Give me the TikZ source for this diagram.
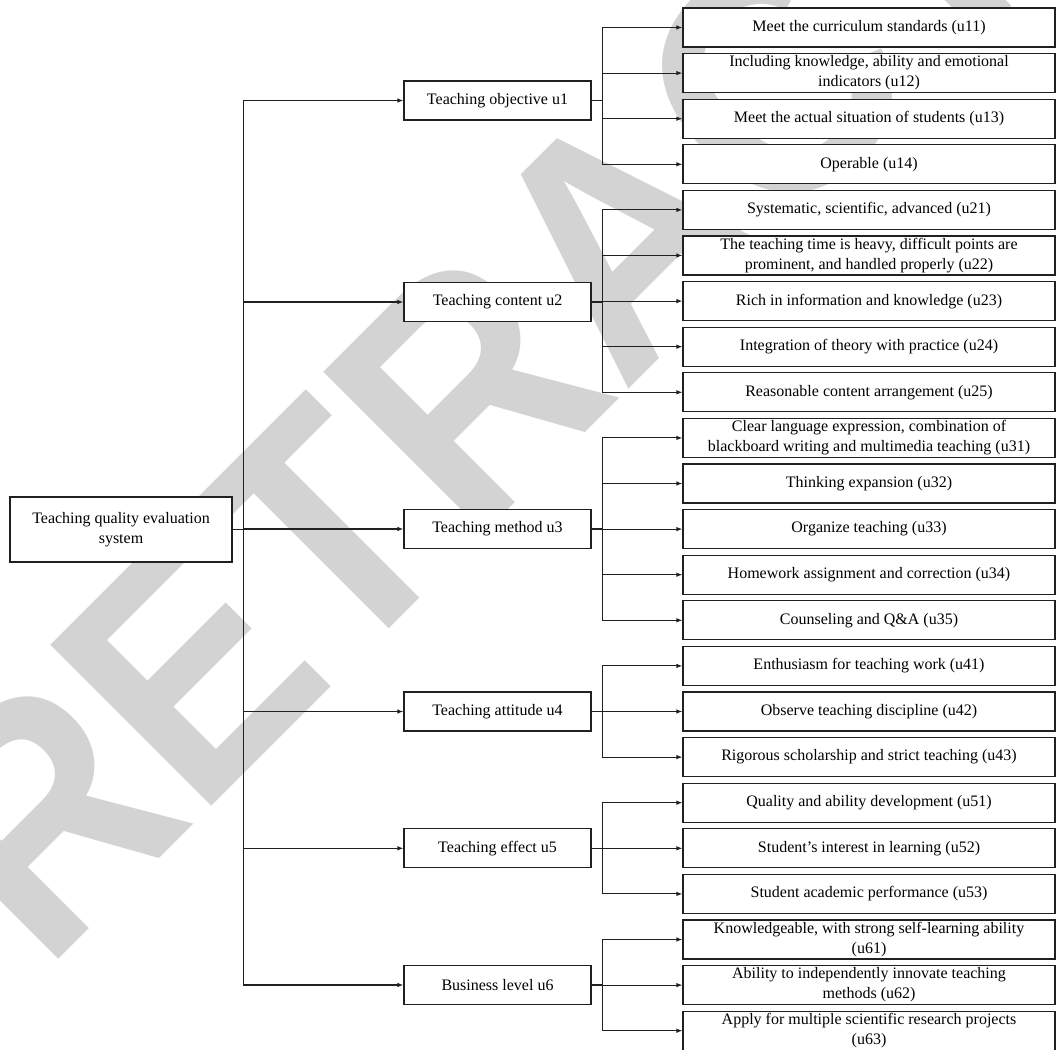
\documentclass[tikz,border=0pt]{standalone}
\usepackage{fontspec}
\setmainfont{Liberation Serif}
\newfontfamily\wmfont{Liberation Sans}
\usetikzlibrary{arrows.meta}
\definecolor{wmgray}{RGB}{211,211,211}
\definecolor{ink}{RGB}{35,31,32}
\tikzset{
  box/.style={draw=ink, line width=1.1pt, fill=white, align=center, inner sep=2pt,
    font=\fontsize{16}{20}\selectfont},
  leaf/.style={box, minimum width=372pt, minimum height=39pt},
  mid/.style={box, minimum width=187pt, minimum height=39pt},
  link/.style={draw=ink, line width=1.1pt, -{Latex[length=6pt,width=4.5pt]}},
}
\begin{document}
\begin{tikzpicture}[x=1pt,y=-1pt]
  \useasboundingbox (0,0) rectangle (1057,1049);

  % watermark
  \node[rotate=45, xscale=0.91, anchor=base west, inner sep=0, text=wmgray,
    font=\wmfont\bfseries\fontsize{331}{331}\selectfont] (wm) at (44,974) {RETRACTED};

  \node[box, minimum width=222pt, minimum height=65pt] (tqe) at (121,529.5) {Teaching quality evaluation\\system};

  \node[mid] (u1) at (497.5,100.5) {Teaching objective u1};
  \node[mid] (u2) at (497.5,302) {Teaching content u2};
  \node[mid] (u3) at (497.5,529) {Teaching method u3};
  \node[mid] (u4) at (497.5,711.5) {Teaching attitude u4};
  \node[mid] (u5) at (497.5,848.3) {Teaching effect u5};
  \node[mid] (u6) at (497.5,985) {Business level u6};

  \foreach \k/\nm/\txt in {
      0/u11/{Meet the curriculum standards (u11)},
      1/u12/{Including knowledge, ability and emotional\\indicators (u12)},
      2/u13/{Meet the actual situation of students (u13)},
      3/u14/{Operable (u14)},
      4/u21/{Systematic, scientific, advanced (u21)},
      5/u22/{The teaching time is heavy, difficult points are\\prominent, and handled properly (u22)},
      6/u23/{Rich in information and knowledge (u23)},
      7/u24/{Integration of theory with practice (u24)},
      8/u25/{Reasonable content arrangement (u25)},
      9/u31/{Clear language expression, combination of\\blackboard writing and multimedia teaching (u31)},
      10/u32/{Thinking expansion (u32)},
      11/u33/{Organize teaching (u33)},
      12/u34/{Homework assignment and correction (u34)},
      13/u35/{Counseling and Q\&A (u35)},
      14/u41/{Enthusiasm for teaching work (u41)},
      15/u42/{Observe teaching discipline (u42)},
      16/u43/{Rigorous scholarship and strict teaching (u43)},
      17/u51/{Quality and ability development (u51)},
      18/u52/{Student's interest in learning (u52)},
      19/u53/{Student academic performance (u53)},
      20/u61/{Knowledgeable, with strong self-learning ability\\(u61)},
      21/u62/{Ability to independently innovate teaching\\methods (u62)},
      22/u63/{Apply for multiple scientific research projects\\(u63)}}
    \node[leaf] (\nm) at (869,{27.5+45.6*\k}) {\txt};

  % trunk
  \foreach \c in {u1,u2,u3,u4,u5,u6}
    \draw[link] (tqe.east) -- ++(11,0) |- (\c.west);

  % sub-branches
  \foreach \p/\cs in {u1/{u11,u12,u13,u14}, u2/{u21,u22,u23,u24,u25},
      u3/{u31,u32,u33,u34,u35}, u4/{u41,u42,u43}, u5/{u51,u52,u53}, u6/{u61,u62,u63}}
    \foreach \c in \cs
      \draw[link] (\p.east) -- ++(10.5,0) |- (\c.west);
\end{tikzpicture}
\end{document}
